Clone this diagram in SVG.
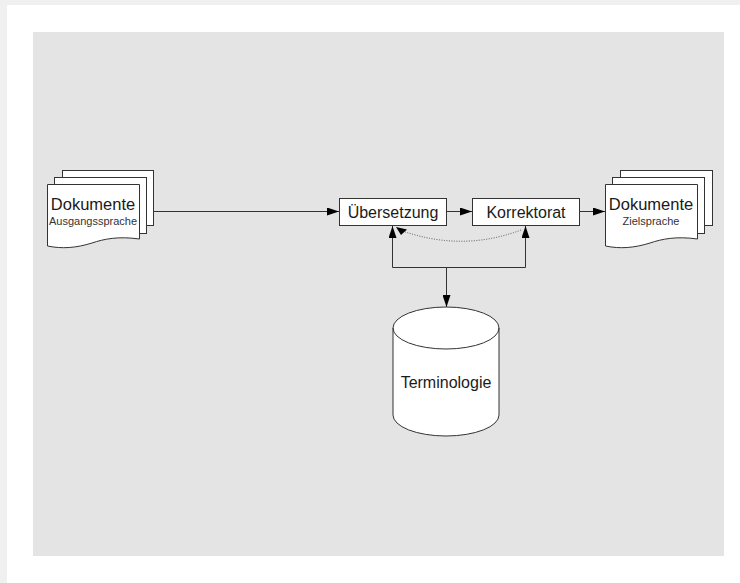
<svg xmlns="http://www.w3.org/2000/svg" width="740" height="583" viewBox="0 0 740 583">
  <defs>
    <marker id="arr" markerUnits="userSpaceOnUse" markerWidth="12" markerHeight="8" refX="12" refY="4" orient="auto">
      <path d="M0,0 L12,4 L0,8 Z" fill="#000"/>
    </marker>
    <style>
      .sheet { fill: #fff; stroke: #333; stroke-width: 1; }
      .box { fill: #fff; stroke: #333; stroke-width: 1; }
      .big { font-family: "Liberation Sans", Arial, sans-serif; font-size: 16px; fill: #1a1a1a; text-anchor: middle; }
      .doc { font-size: 16.5px; }
      .small { font-family: "Liberation Sans", Arial, sans-serif; font-size: 11px; fill: #333; text-anchor: middle; }
      .line { fill: none; stroke: #333; stroke-width: 1; }
      .dot { fill: none; stroke: #555; stroke-width: 1; stroke-dasharray: 1 1.5; }
    </style>
  </defs>
  <rect x="0" y="0" width="740" height="583" fill="#f0f0f0"/>
  <rect x="7" y="5" width="733" height="578" fill="#fff"/>
  <rect x="33" y="32" width="691" height="524" fill="#e4e4e4"/>

  <g id="doc-source">
    <rect class="sheet" x="62.5" y="170.5" width="91" height="55"/>
    <rect class="sheet" x="54.5" y="177.5" width="92" height="56"/>
    <path class="sheet" d="M47.5,184.5 H139.5 V239 C118,236 104,239 92,243 C76,248 62,249 47.5,246 Z"/>
    <text class="big doc" x="93" y="210">Dokumente</text>
    <text class="small" x="93" y="225">Ausgangssprache</text>
  </g>

  <g id="doc-target">
    <rect class="sheet" x="620.5" y="170.5" width="92" height="55"/>
    <rect class="sheet" x="612.5" y="177.5" width="92" height="56"/>
    <path class="sheet" d="M605.5,184.5 H697.5 V239 C676,236 662,239 650,243 C634,248 620,249 605.5,246 Z"/>
    <text class="big doc" x="651" y="210">Dokumente</text>
    <text class="small" x="651" y="225">Zielsprache</text>
  </g>

  <g id="uebersetzung">
    <rect class="box" x="339.5" y="198.5" width="107" height="27"/>
    <text class="big" x="393" y="218">Übersetzung</text>
  </g>

  <g id="korrektorat">
    <rect class="box" x="472.5" y="198.5" width="107" height="27"/>
    <text class="big" x="526" y="218">Korrektorat</text>
  </g>

  <g id="terminologie">
    <path class="box" d="M393,328 A53,21 0 0 1 499,328 V415 A53,21 0 0 1 393,415 Z"/>
    <path class="line" d="M393,328 A53,21 0 0 0 499,328"/>
    <text class="big" x="446" y="388">Terminologie</text>
  </g>

  <g id="connectors">
    <path class="line" d="M153,211.5 H339" marker-end="url(#arr)"/>
    <path class="line" d="M446.5,211.5 H472" marker-end="url(#arr)"/>
    <path class="line" d="M579.5,211.5 H605" marker-end="url(#arr)"/>
    <path class="line" d="M392.5,267.5 H525.5"/>
    <path class="line" d="M392.5,267.5 V226" marker-end="url(#arr)"/>
    <path class="line" d="M525.5,267.5 V226" marker-end="url(#arr)"/>
    <path class="line" d="M446.5,267.5 V307" marker-end="url(#arr)"/>
    <path class="dot" d="M521,230 Q460,253 397,229"/>
    <path d="M396,227 L407,229.5 L401,235 Z" fill="#000"/>
  </g>
</svg>
